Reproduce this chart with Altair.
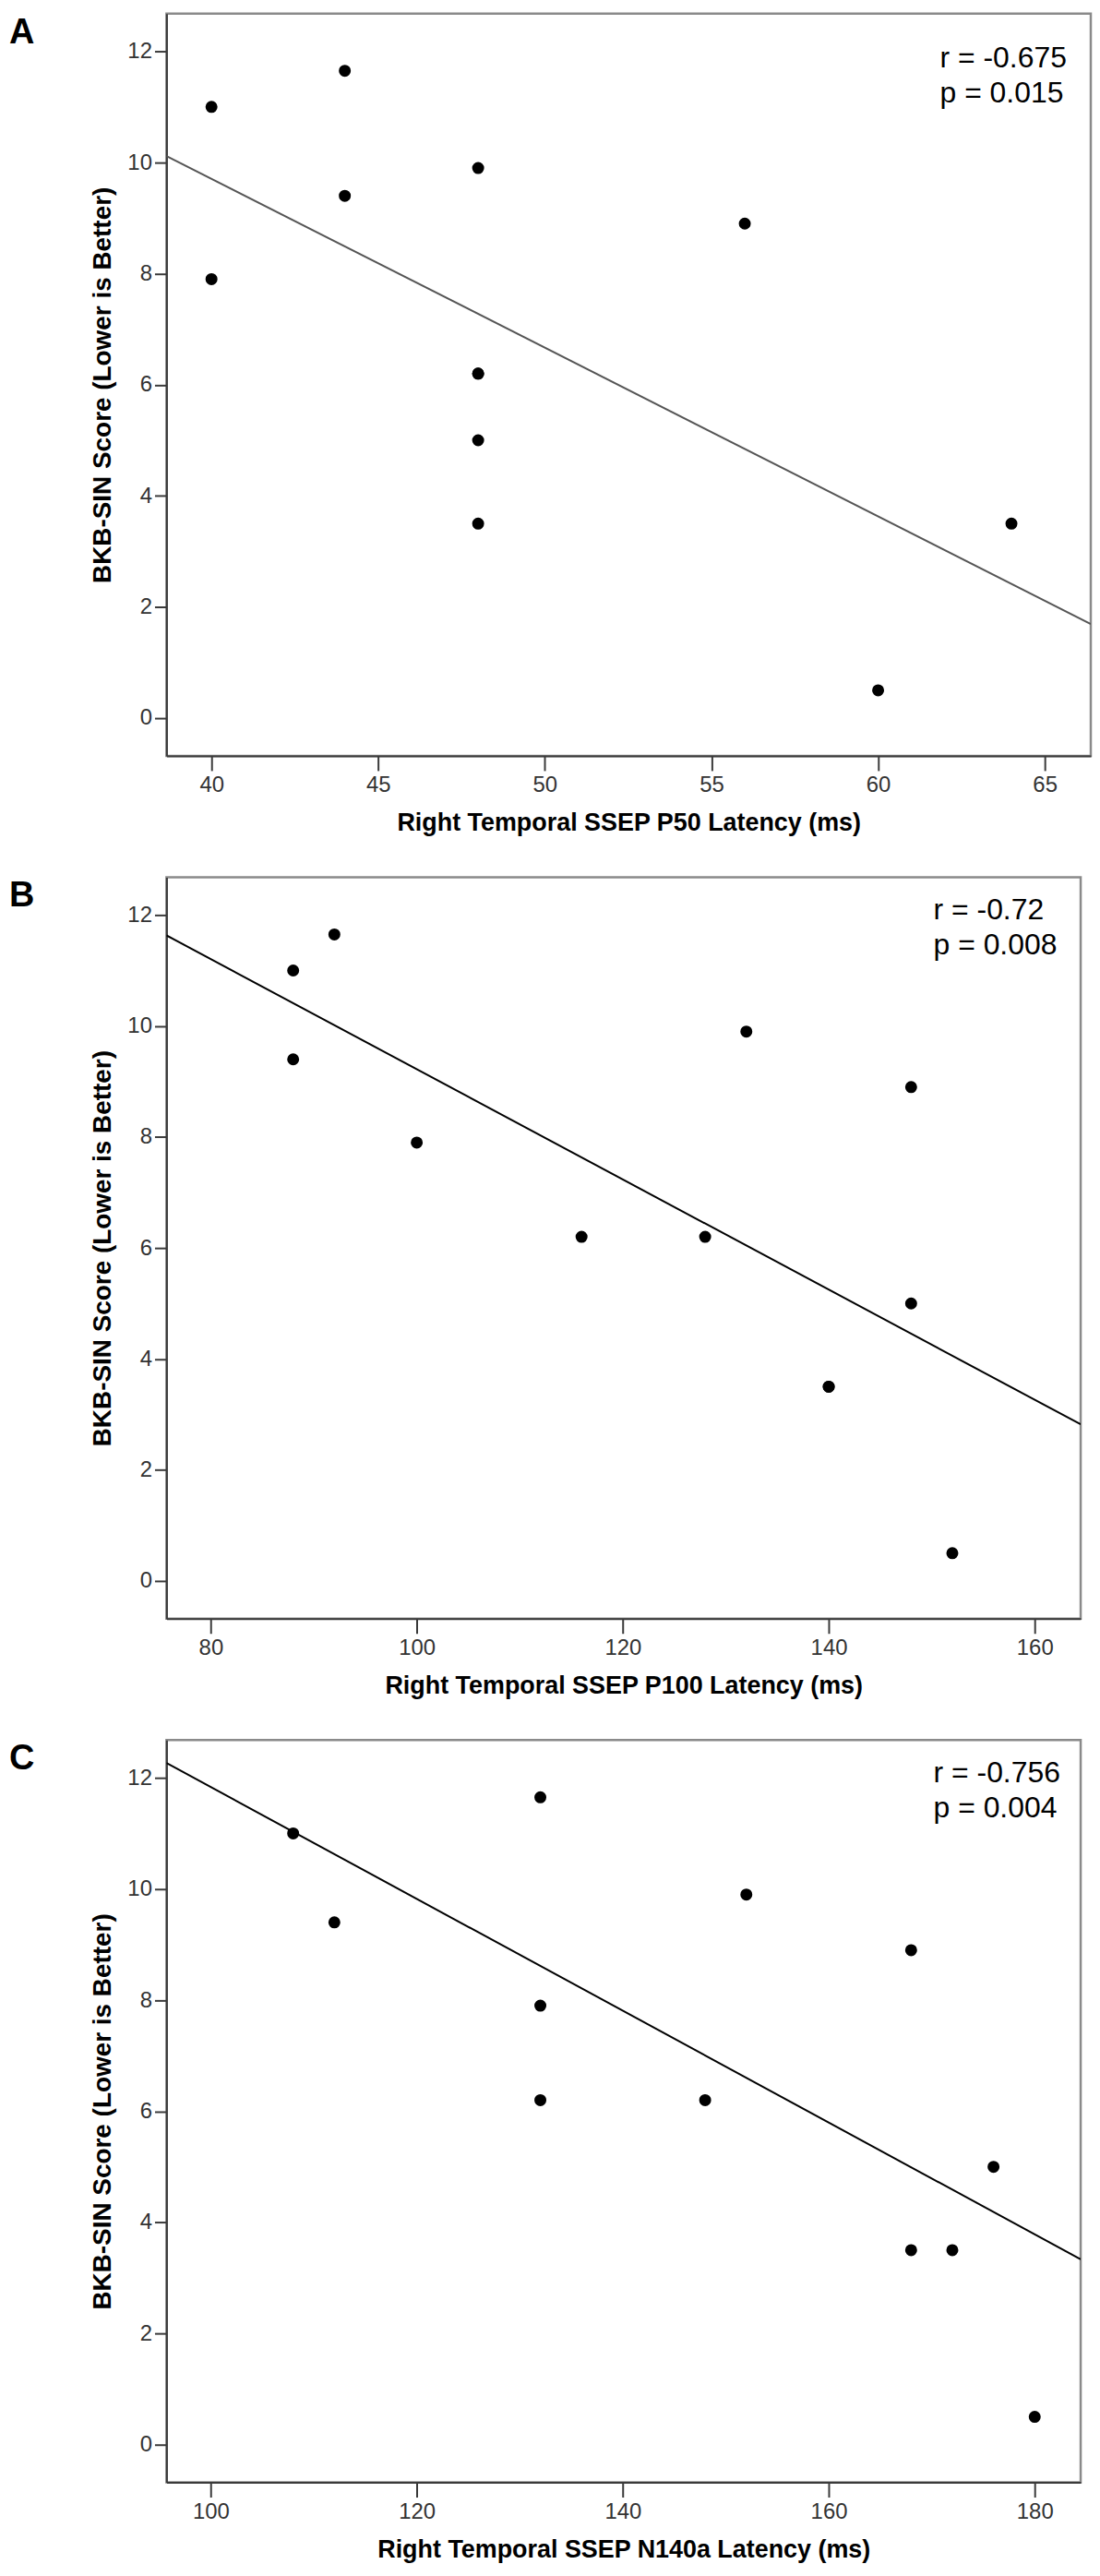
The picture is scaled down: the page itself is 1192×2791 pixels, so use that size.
import altair as alt
import pandas as pd

FONT = "Liberation Sans, Arial, Helvetica, sans-serif"

# Panel A: Right Temporal SSEP P50 latency (ms) vs BKB-SIN score
a_latency = [40, 40, 44, 44, 48, 48, 48, 48, 48, 56, 60, 64]
a_score = [11.0, 7.9, 11.65, 9.4, 9.9, 6.2, 6.2, 5.0, 3.5, 8.9, 0.5, 3.5]
a_ticks = [40, 45, 50, 55, 60, 65]

# Panel B: Right Temporal SSEP P100 latency (ms)
b_latency = [88, 92, 88, 100, 116, 128, 132, 148, 148, 140, 140, 152]
b_score = [11.0, 11.65, 9.4, 7.9, 6.2, 6.2, 9.9, 8.9, 5.0, 3.5, 3.5, 0.5]
b_ticks = [80, 100, 120, 140, 160]

# Panel C: Right Temporal SSEP N140a latency (ms)
c_latency = [108, 112, 132, 132, 132, 148, 152, 168, 168, 172, 176, 180]
c_score = [11.0, 9.4, 11.65, 7.9, 6.2, 6.2, 9.9, 8.9, 3.5, 3.5, 5.0, 0.5]
c_ticks = [100, 120, 140, 160, 180]

y_ticks = [0, 2, 4, 6, 8, 10, 12]
y_title = "BKB-SIN Score (Lower is Better)"
stats = {
    "A": "r = -0.675\np = 0.015",
    "B": "r = -0.72\np = 0.008",
    "C": "r = -0.756\np = 0.004",
}


def panel(letter, xs, ys, dom, ticks, xtitle, w, h, line_color, tx, ty):
    df = pd.DataFrame({"lat": xs, "score": ys})
    base = alt.Chart(df)
    xenc = alt.X(
        "lat:Q",
        scale=alt.Scale(domain=dom, nice=False, zero=False),
        axis=alt.Axis(values=ticks, title=xtitle, tickSize=16, labelPadding=4,
                      titlePadding=16, format="d", labelFlush=False,
                      titleFontSize=27),
    )
    yenc = alt.Y(
        "score:Q",
        scale=alt.Scale(domain=[-0.68, 12.68], nice=False, zero=False),
        axis=alt.Axis(values=y_ticks, title=y_title, tickSize=13, labelPadding=3,
                      titlePadding=12, format="d", titleFontSize=28),
    )
    pts = base.mark_circle(size=170, color="black", opacity=1).encode(x=xenc, y=yenc)
    line = (
        base.transform_regression("lat", "score", extent=dom)
        .mark_line(color=line_color, strokeWidth=2, clip=True)
        .encode(x="lat:Q", y="score:Q")
    )
    txt = (
        alt.Chart(pd.DataFrame({"t": [stats[letter]]}))
        .mark_text(align="left", baseline="alphabetic", fontSize=32, font=FONT,
                   color="black", lineBreak="\n", lineHeight=38)
        .encode(text="t:N", x=alt.value(tx), y=alt.value(ty))
    )
    lab = (
        alt.Chart(pd.DataFrame({"t": [letter]}))
        .mark_text(align="left", baseline="alphabetic", fontSize=38, font=FONT,
                   fontWeight="bold", color="black")
        .encode(text="t:N", x=alt.value(-171), y=alt.value(32))
    )
    return alt.layer(pts, line, txt, lab).properties(width=w, height=h)


pa = panel("A", a_latency, a_score, [38.65, 66.38], a_ticks,
           "Right Temporal SSEP P50 Latency (ms)", 1005, 807, "#555555", 841, 59)
pb = panel("B", b_latency, b_score, [75.7, 164.46], b_ticks,
           "Right Temporal SSEP P100 Latency (ms)", 994, 806, "black", 834, 46)
pc = panel("C", c_latency, c_score, [95.7, 184.46], c_ticks,
           "Right Temporal SSEP N140a Latency (ms)", 994, 807, "black", 834, 46)

chart = (
    alt.vconcat(pa, pb, pc, spacing=132, bounds="flush")
    .properties(padding=0)
    .configure_view(stroke="#8a8a8a", strokeWidth=2.5)
    .configure_axis(
        domainColor="#3a3a3a", domainWidth=2, tickColor="#3a3a3a", tickWidth=2,
        labelColor="#333333", labelFont=FONT, labelFontSize=24,
        titleFont=FONT, titleFontWeight="bold", titleColor="black", grid=False,
    )
)

chart.save("out.html", embed_options={"renderer": "svg", "actions": False})
